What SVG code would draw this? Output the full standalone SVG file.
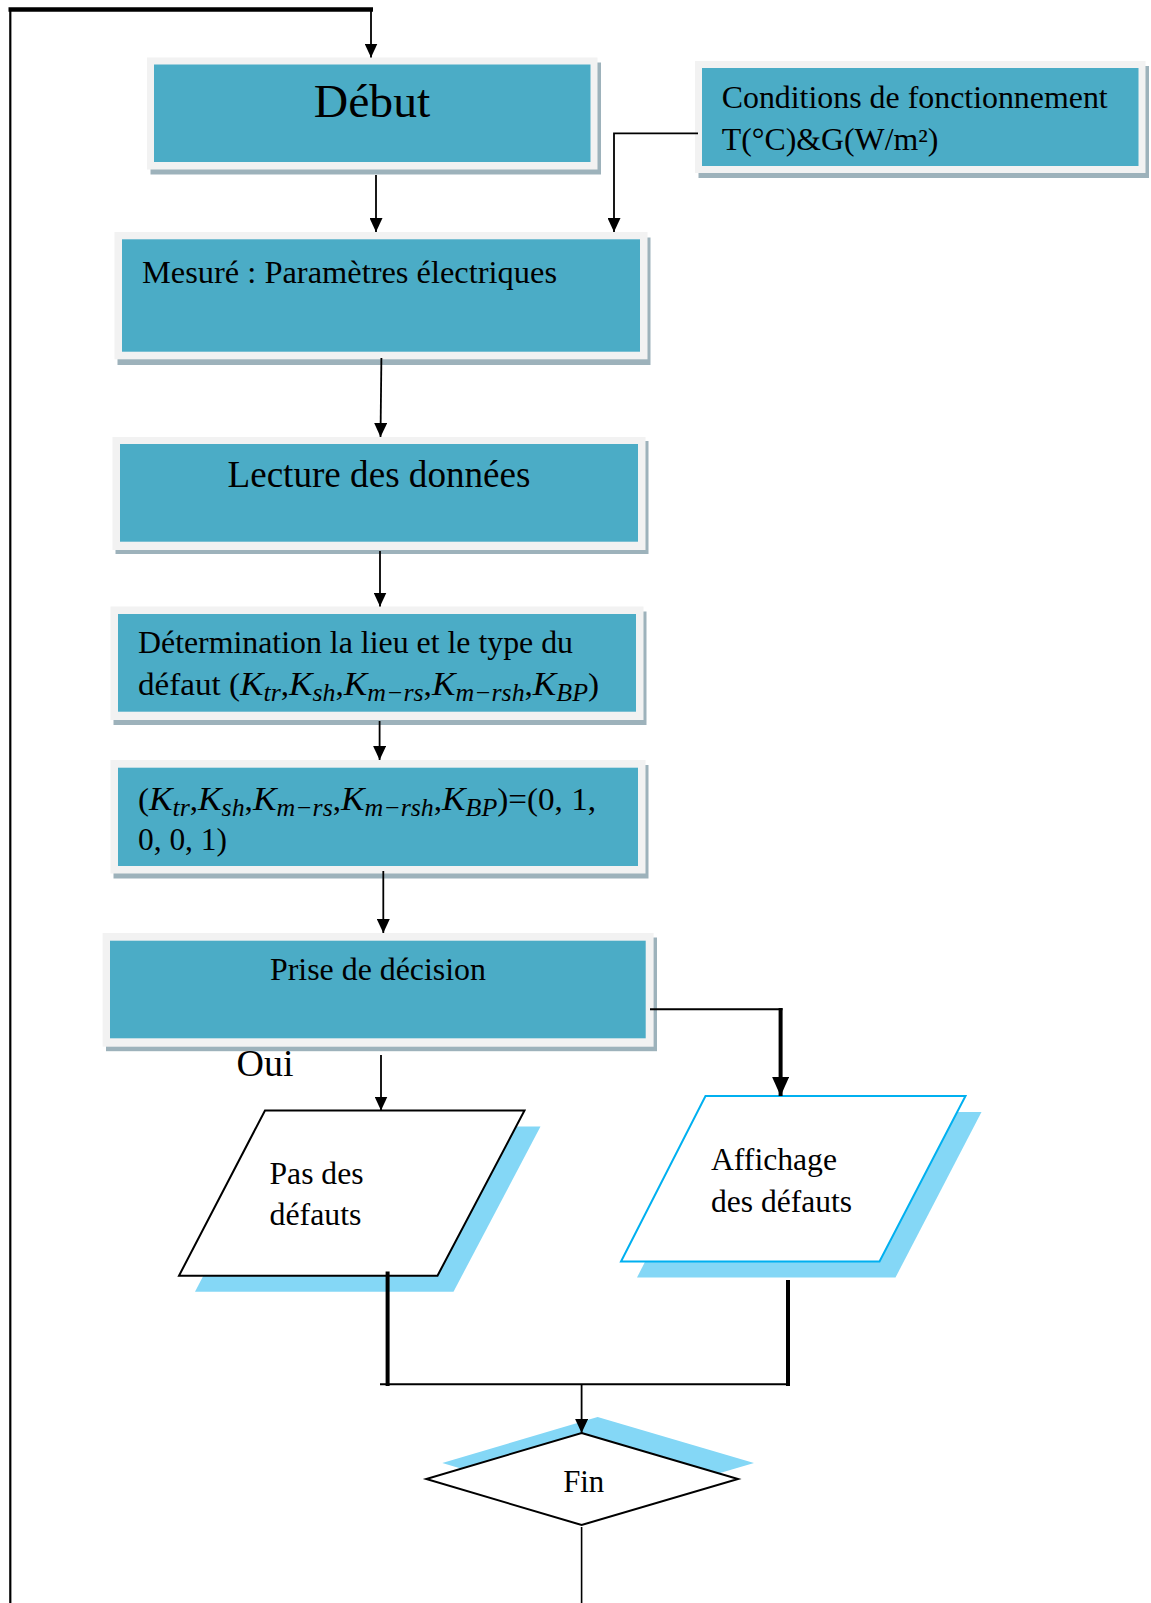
<svg xmlns="http://www.w3.org/2000/svg" width="1151" height="1603" viewBox="0 0 1151 1603">
<defs>
<style>
.sh{fill:#9db2bb}
.out{fill:#f2f2f2}
.in{fill:#4bacc6}
.t{font-family:"Liberation Serif","Times New Roman",serif;fill:#000}
.m{font-style:italic;font-size:34px}
.s{font-style:italic;font-size:25px}
.c{stroke:#000;fill:none;stroke-width:1.8}
.ck{stroke:#000;fill:none;stroke-width:4}
.lb{fill:#84d7f6}
</style>
<marker id="ah" markerUnits="userSpaceOnUse" markerWidth="14" markerHeight="13" refX="14" refY="6.5" orient="auto" viewBox="0 0 14 13">
<path d="M0,0 L14,6.5 L0,13 z" fill="#000"/>
</marker>
<marker id="ahb" markerUnits="userSpaceOnUse" markerWidth="19" markerHeight="17" refX="19" refY="8.5" orient="auto" viewBox="0 0 19 17">
<path d="M0,0 L19,8.5 L0,17 z" fill="#000"/>
</marker>
</defs>
<rect width="1151" height="1603" fill="#fff"/>

<g id="debut">
<rect class="sh" x="150.5" y="62.5" width="450.5" height="112"/>
<rect class="out" x="147" y="57.5" width="450.5" height="112"/>
<rect class="in" x="154" y="64.5" width="436.5" height="97.5"/>
<text class="t" x="372" y="117" font-size="47" text-anchor="middle" textLength="116.5" lengthAdjust="spacingAndGlyphs">Début</text>
</g>

<g id="conditions">
<rect class="sh" x="698.5" y="66" width="450.5" height="112"/>
<rect class="out" x="695" y="61" width="450.5" height="112"/>
<rect class="in" x="702" y="68" width="436.5" height="98"/>
<text class="t" x="721.7" y="107.5" font-size="31" textLength="386" lengthAdjust="spacingAndGlyphs">Conditions de fonctionnement</text>
<text class="t" x="721.7" y="150" font-size="31" textLength="216.7" lengthAdjust="spacingAndGlyphs">T(°C)&amp;G(W/m²)</text>
</g>

<g id="mesure">
<rect class="sh" x="117.5" y="237.5" width="533" height="127.5"/>
<rect class="out" x="114.5" y="232" width="533" height="127.3"/>
<rect class="in" x="122" y="239.3" width="518" height="112.4"/>
<text class="t" x="142" y="282.5" font-size="32" textLength="415" lengthAdjust="spacingAndGlyphs">Mesuré : Paramètres électriques</text>
</g>

<g id="lecture">
<rect class="sh" x="115.5" y="441" width="533" height="113"/>
<rect class="out" x="112.5" y="437" width="533" height="113"/>
<rect class="in" x="120" y="444" width="518" height="97.7"/>
<text class="t" x="379" y="487" font-size="37" text-anchor="middle" textLength="303" lengthAdjust="spacingAndGlyphs">Lecture des données</text>
</g>

<g id="determination">
<rect class="sh" x="113.5" y="611.5" width="533" height="113.5"/>
<rect class="out" x="110.5" y="606.5" width="533" height="113.5"/>
<rect class="in" x="118" y="614" width="518" height="97.7"/>
<text class="t" x="138" y="652.5" font-size="32" textLength="435" lengthAdjust="spacingAndGlyphs">Détermination la lieu et le type du</text>
<text class="t" x="138" y="695" font-size="32" textLength="461" lengthAdjust="spacingAndGlyphs">défaut (<tspan class="m">K</tspan><tspan class="s" dy="6">tr</tspan><tspan dy="-6">,</tspan><tspan class="m">K</tspan><tspan class="s" dy="6">sh</tspan><tspan dy="-6">,</tspan><tspan class="m">K</tspan><tspan class="s" dy="6">m−rs</tspan><tspan dy="-6">,</tspan><tspan class="m">K</tspan><tspan class="s" dy="6">m−rsh</tspan><tspan dy="-6">,</tspan><tspan class="m">K</tspan><tspan class="s" dy="6">BP</tspan><tspan dy="-6">)</tspan></text>
</g>

<g id="valeurs">
<rect class="sh" x="113.5" y="765" width="535" height="113.5"/>
<rect class="out" x="110.5" y="760" width="535" height="113.5"/>
<rect class="in" x="118" y="767.7" width="520" height="98.3"/>
<text class="t" x="138" y="810" font-size="32" textLength="458" lengthAdjust="spacingAndGlyphs">(<tspan class="m">K</tspan><tspan class="s" dy="6">tr</tspan><tspan dy="-6">,</tspan><tspan class="m">K</tspan><tspan class="s" dy="6">sh</tspan><tspan dy="-6">,</tspan><tspan class="m">K</tspan><tspan class="s" dy="6">m−rs</tspan><tspan dy="-6">,</tspan><tspan class="m">K</tspan><tspan class="s" dy="6">m−rsh</tspan><tspan dy="-6">,</tspan><tspan class="m">K</tspan><tspan class="s" dy="6">BP</tspan><tspan dy="-6">)=(0, 1,</tspan></text>
<text class="t" x="138" y="850" font-size="32" textLength="89" lengthAdjust="spacingAndGlyphs">0, 0, 1)</text>
</g>

<g id="decision">
<rect class="sh" x="106" y="937.5" width="551" height="113.7"/>
<rect class="out" x="102.6" y="933" width="551" height="113.7"/>
<rect class="in" x="110" y="940.7" width="535.7" height="97.6"/>
<text class="t" x="378" y="980" font-size="32" text-anchor="middle" textLength="216" lengthAdjust="spacingAndGlyphs">Prise de décision</text>
</g>

<g id="oui">
<text class="t" x="236.5" y="1076" font-size="38" textLength="57" lengthAdjust="spacingAndGlyphs">Oui</text>
</g>

<g id="pas-defauts">
<polygon class="lb" points="281,1126.5 540.5,1126.5 453.5,1291.7 195,1291.7"/>
<polygon points="265,1110.5 524.5,1110.5 437.5,1275.7 179,1275.7" fill="#fff" stroke="#000" stroke-width="2"/>
<text class="t" x="269.5" y="1183.5" font-size="32" textLength="94" lengthAdjust="spacingAndGlyphs">Pas des</text>
<text class="t" x="269.5" y="1225" font-size="32" textLength="92" lengthAdjust="spacingAndGlyphs">défauts</text>
</g>

<g id="affichage">
<polygon class="lb" points="721.5,1112 981.5,1112 895.5,1277.5 637,1277.5"/>
<polygon points="705.5,1096 965.5,1096 879.5,1261.5 621,1261.5" fill="#fff" stroke="#00b0f0" stroke-width="2"/>
<text class="t" x="711" y="1169.5" font-size="32" textLength="126" lengthAdjust="spacingAndGlyphs">Affichage</text>
<text class="t" x="711" y="1211.5" font-size="32" textLength="141" lengthAdjust="spacingAndGlyphs">des défauts</text>
</g>

<g id="fin">
<polygon class="lb" points="597.6,1417 754,1463 597.6,1509 442.3,1463"/>
<polygon points="581.6,1433 738,1479 581.6,1525 426.3,1479" fill="#fff" stroke="#000" stroke-width="2"/>
<text class="t" x="583.7" y="1491.7" font-size="32" text-anchor="middle" textLength="41" lengthAdjust="spacingAndGlyphs">Fin</text>
</g>

<g id="connectors">
<line x1="8.5" y1="9.5" x2="373" y2="9.5" stroke="#000" stroke-width="4.5"/>
<line x1="10.3" y1="8" x2="10.3" y2="1603" stroke="#000" stroke-width="2.2"/>
<line class="c" x1="371" y1="10" x2="371" y2="57.5" marker-end="url(#ah)"/>
<line class="c" x1="376" y1="175" x2="376" y2="232" marker-end="url(#ah)"/>
<polyline class="c" points="698,133.3 614,133.3 614,232" marker-end="url(#ah)"/>
<line class="c" x1="381.4" y1="358" x2="380.5" y2="437" marker-end="url(#ah)"/>
<line class="c" x1="380" y1="551" x2="380" y2="606.5" marker-end="url(#ah)"/>
<line class="c" x1="379.6" y1="721" x2="379.6" y2="760" marker-end="url(#ah)"/>
<line class="c" x1="383.3" y1="871" x2="383.3" y2="933" marker-end="url(#ah)"/>
<line class="c" x1="381" y1="1055" x2="381" y2="1110.5" marker-end="url(#ah)"/>
<line x1="650" y1="1009.3" x2="782.5" y2="1009.3" stroke="#000" stroke-width="2"/>
<line class="ck" x1="780.6" y1="1008" x2="780.6" y2="1096" marker-end="url(#ahb)"/>
<line class="ck" x1="387.6" y1="1271.5" x2="387.6" y2="1386"/>
<line class="ck" x1="788" y1="1280" x2="788" y2="1386"/>
<line x1="380" y1="1384.3" x2="790" y2="1384.3" stroke="#000" stroke-width="2"/>
<line class="c" x1="581.6" y1="1384" x2="581.6" y2="1433" marker-end="url(#ah)"/>
<line x1="581.6" y1="1527" x2="581.6" y2="1603" stroke="#000" stroke-width="1.6"/>
</g>
</svg>
